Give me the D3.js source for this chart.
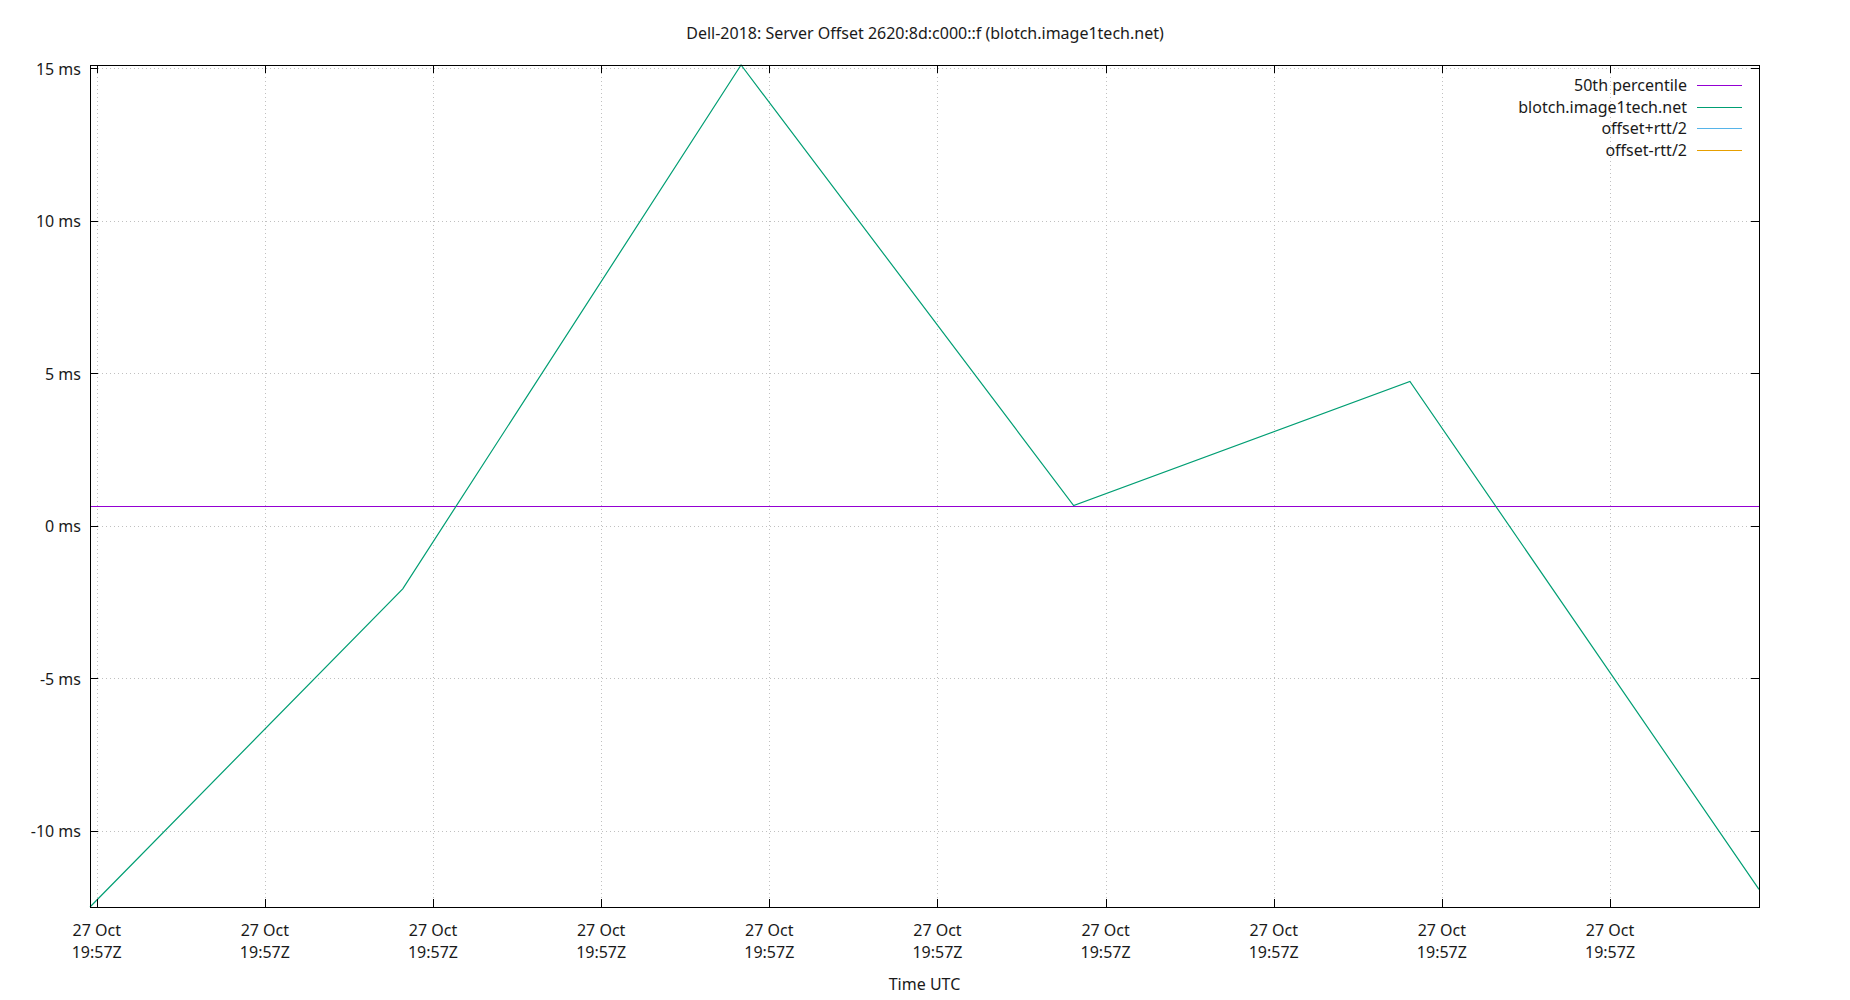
<!DOCTYPE html>
<html>
<head>
<meta charset="utf-8">
<script src="https://cdn.jsdelivr.net/npm/d3@7"></script>
<style>
  body { margin: 0; background: #fff; }
  text { font-family: "Noto Sans", sans-serif; font-size: 16px; fill: #1a1a1a; }
</style>
</head>
<body>
<div id="vis"></div>
<script>
// values
var times = ["2023-10-27T19:57:04.80Z", "2023-10-27T19:57:14.10Z", "2023-10-27T19:57:24.16Z",
             "2023-10-27T19:57:34.05Z", "2023-10-27T19:57:44.05Z", "2023-10-27T19:57:54.43Z"];
var offsets = [-12.50, -2.07, 15.10, 0.66, 4.73, -11.92];
var medianOffset = 0.66;
var yTicks = [-10, -5, 0, 5, 10, 15];
var legendNames = ["50th percentile", "blotch.image1tech.net", "offset+rtt/2", "offset-rtt/2"];
var legendColors = ["#9400d3", "#009e73", "#56b4e9", "#e69f00"];

var W = 1850, H = 1000;
var pLeft = 90, pRight = 1759, pTop = 65, pBottom = 907;

var svg = d3.select("#vis").append("svg")
    .attr("width", W).attr("height", H);

var data = times.map(function(t, i) { return {t: new Date(t), v: offsets[i]}; });

var xScale = d3.scaleUtc()
    .domain(d3.extent(data, d => d.t))
    .range([pLeft, pRight]);

var yScale = d3.scaleLinear()
    .domain(d3.extent(data, d => d.v))
    .range([pBottom, pTop]);

var xTicks = xScale.ticks(d3.utcSecond.every(5));

// grid
var grid = svg.append("g").attr("stroke", "#c0c0c0").attr("stroke-width", 1)
    .attr("stroke-dasharray", "1,3").attr("shape-rendering", "crispEdges");
grid.selectAll(".gx").data(xTicks).enter().append("line")
    .attr("x1", d => Math.round(xScale(d)) + 0.5).attr("x2", d => Math.round(xScale(d)) + 0.5)
    .attr("y1", pTop).attr("y2", pBottom);
grid.selectAll(".gy").data(yTicks).enter().append("line")
    .attr("x1", pLeft).attr("x2", pRight)
    .attr("y1", d => Math.round(yScale(d)) + 0.5).attr("y2", d => Math.round(yScale(d)) + 0.5);

// median line
var my = Math.round(yScale(medianOffset)) + 0.5;
svg.append("line")
    .attr("x1", pLeft).attr("x2", pRight)
    .attr("y1", my).attr("y2", my)
    .attr("stroke", legendColors[0]).attr("stroke-width", 1)
    .attr("shape-rendering", "crispEdges");

// offset series
var line = d3.line().x(d => xScale(d.t)).y(d => yScale(d.v));
svg.append("path").datum(data)
    .attr("d", line)
    .attr("fill", "none")
    .attr("stroke", legendColors[1])
    .attr("stroke-width", 1.2);

// frame
svg.append("rect")
    .attr("x", pLeft + 0.5).attr("y", pTop + 0.5)
    .attr("width", pRight - pLeft).attr("height", pBottom - pTop)
    .attr("fill", "none").attr("stroke", "#000").attr("stroke-width", 1)
    .attr("shape-rendering", "crispEdges");

// ticks (inward, mirrored)
var tk = svg.append("g").attr("stroke", "#000").attr("stroke-width", 1).attr("shape-rendering", "crispEdges");
yTicks.forEach(function(v) {
    var y = Math.round(yScale(v)) + 0.5;
    tk.append("line").attr("x1", pLeft).attr("x2", pLeft + 8).attr("y1", y).attr("y2", y);
    tk.append("line").attr("x1", pRight - 8).attr("x2", pRight).attr("y1", y).attr("y2", y);
});
xTicks.forEach(function(t) {
    var x = Math.round(xScale(t)) + 0.5;
    tk.append("line").attr("x1", x).attr("x2", x).attr("y1", pBottom - 8).attr("y2", pBottom);
    tk.append("line").attr("x1", x).attr("x2", x).attr("y1", pTop).attr("y2", pTop + 8);
});

// y tick labels
svg.selectAll(".ylab").data(yTicks).enter().append("text")
    .attr("x", 81).attr("y", d => yScale(d) + 1)
    .attr("dy", "0.35em")
    .attr("text-anchor", "end")
    .text(d => d + " ms");

// x tick labels
var fDay = d3.utcFormat("%d %b"), fTime = d3.utcFormat("%H:%MZ");
var xl = svg.selectAll(".xlab").data(xTicks).enter().append("text")
    .attr("text-anchor", "middle");
xl.append("tspan").attr("x", d => xScale(d)).attr("y", 936).text(d => fDay(d));
xl.append("tspan").attr("x", d => xScale(d)).attr("y", 958).text(d => fTime(d));

// title and axis label
svg.append("text").attr("x", W / 2).attr("y", 39).attr("text-anchor", "middle")
    .text("Dell-2018: Server Offset 2620:8d:c000::f (blotch.image1tech.net)");
svg.append("text").attr("x", (pLeft + pRight) / 2).attr("y", 990).attr("text-anchor", "middle")
    .text("Time UTC");

// legend
var lg = svg.selectAll(".leg").data(legendNames).enter().append("g")
    .attr("transform", (d, i) => "translate(0," + (Math.round(85 + i * 21.7) + 0.5) + ")");
lg.append("text").attr("x", 1687).attr("dy", "0.35em").attr("text-anchor", "end").text(d => d);
lg.append("line").attr("x1", 1697).attr("x2", 1742).attr("y1", 0).attr("y2", 0)
    .attr("stroke", (d, i) => legendColors[i]).attr("stroke-width", 1)
    .attr("shape-rendering", "crispEdges");
</script>
</body>
</html>
